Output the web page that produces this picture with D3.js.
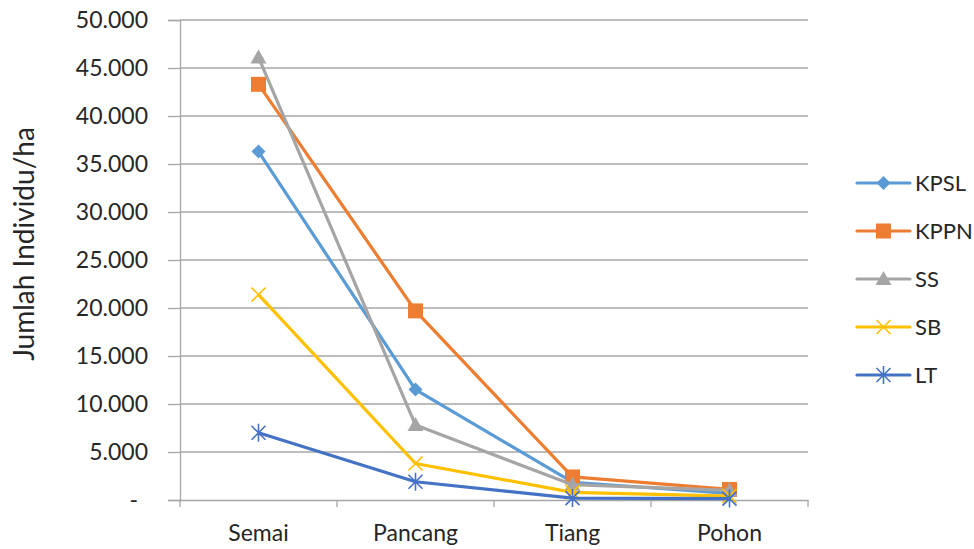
<!DOCTYPE html>
<html><head><meta charset="utf-8">
<script src="https://cdn.jsdelivr.net/npm/d3@7"></script>
<style>body{margin:0;background:#fff}text{font-family:Lato,"Open Sans",sans-serif}</style>
</head><body><svg id="c" width="974" height="549"></svg>
<script>
const categories = ["Semai","Pancang","Tiang","Pohon"];
const seriesNames = ["KPSL","KPPN","SS","SB","LT"];
const KPSL = [36300, 11500, 1850, 700];
const KPPN = [43300, 19700, 2400, 1100];
const SS   = [46100, 7800, 1600, 1000];
const SB   = [21400, 3800, 800, 400];
const LT   = [7000, 1900, 200, 150];
const yTicks = [0,5000,10000,15000,20000,25000,30000,35000,40000,45000,50000];
const colors = {KPSL:"#5B9BD5",KPPN:"#ED7D31",SS:"#A5A5A5",SB:"#FFC000",LT:"#4472C4"};
const markers = {KPSL:"diamond",KPPN:"square",SS:"triangle",SB:"x",LT:"star"};
const data = {KPSL,KPPN,SS,SB,LT};

const svg = d3.select("#c");
const L=180,R=808,T=20,B=500;
const x = d3.scaleBand().domain(categories).range([L,R]);
const y = d3.scaleLinear().domain([0,50000]).range([B,T]);

svg.append("g").selectAll("line").data(yTicks.filter(d=>d>0)).join("line")
  .attr("x1",L).attr("x2",R).attr("y1",d=>y(d)).attr("y2",d=>y(d))
  .attr("stroke","#A6A6A6").attr("stroke-width",1.3);

const fmt = d => d===0 ? "-" : d3.format(",")(d).replace(/,/g,".");
const ya = svg.append("g").attr("transform",`translate(${L},0)`)
  .call(d3.axisLeft(y).tickValues(yTicks).tickFormat(fmt).tickSize(12).tickPadding(20));
ya.select(".domain").attr("stroke","#A6A6A6").attr("stroke-width",1.3);
ya.selectAll(".tick line").attr("stroke","#A6A6A6").attr("stroke-width",1.3);
ya.selectAll("text").attr("font-size",23).attr("fill","#262626").attr("font-family","Lato,sans-serif")
  .attr("dx", d=> d===0 ? -10 : 0);

const xa = svg.append("g").attr("transform",`translate(0,${B})`)
  .call(d3.axisBottom(x).tickSize(0).tickPadding(25));
xa.select(".domain").attr("stroke","#A6A6A6").attr("stroke-width",1.3);
xa.selectAll("text").attr("font-size",23).attr("fill","#262626").attr("font-family","Lato,sans-serif");
const bounds = categories.map(c=>x(c)).concat([R]);
svg.append("g").selectAll("line").data(bounds).join("line")
  .attr("x1",d=>d).attr("x2",d=>d).attr("y1",B).attr("y2",B+7)
  .attr("stroke","#A6A6A6").attr("stroke-width",1.3);

svg.append("text").attr("transform","translate(34,244) rotate(-90)")
  .attr("text-anchor","middle").attr("font-size",28).attr("fill","#262626")
  .text("Jumlah Individu/ha");

const cx = c => x(c)+x.bandwidth()/2;
function drawMarker(g, type, color, px, py){
  if(type==="diamond"){
    g.append("path").attr("d",`M${px},${py-7}L${px+7},${py}L${px},${py+7}L${px-7},${py}Z`).attr("fill",color);
  } else if(type==="square"){
    g.append("rect").attr("x",px-7.5).attr("y",py-7.5).attr("width",15).attr("height",15).attr("fill",color);
  } else if(type==="triangle"){
    g.append("path").attr("d",`M${px},${py-8}L${px+8},${py+6}L${px-8},${py+6}Z`).attr("fill",color);
  } else if(type==="x"){
    g.append("path").attr("d",`M${px-7},${py-7}L${px+7},${py+7}M${px-7},${py+7}L${px+7},${py-7}`).attr("stroke",color).attr("stroke-width",1.6);
  } else if(type==="star"){
    g.append("path").attr("d",`M${px-7},${py-7}L${px+7},${py+7}M${px-7},${py+7}L${px+7},${py-7}M${px},${py-9}L${px},${py+9}`).attr("stroke",color).attr("stroke-width",1.6);
  }
}
const line = d3.line().x((d,i)=>cx(categories[i])).y(d=>y(d));
seriesNames.forEach(s=>{
  const g = svg.append("g");
  g.append("path").datum(data[s]).attr("d",line).attr("fill","none")
    .attr("stroke",colors[s]).attr("stroke-width",3.2).attr("stroke-linejoin","round");
  data[s].forEach((v,i)=>drawMarker(g,markers[s],colors[s],cx(categories[i]),y(v)));
});

const ly0=183, ldy=48;
seriesNames.forEach((s,i)=>{
  const g = svg.append("g");
  const yy = ly0+i*ldy;
  g.append("line").attr("x1",857).attr("x2",910).attr("y1",yy).attr("y2",yy)
    .attr("stroke",colors[s]).attr("stroke-width",3.2).attr("stroke-linecap","round");
  drawMarker(g,markers[s],colors[s],883.5,yy);
  g.append("text").attr("x",915).attr("y",yy).attr("dy","0.36em").attr("font-size",22)
    .attr("fill","#262626").text(s);
});
</script></body></html>
